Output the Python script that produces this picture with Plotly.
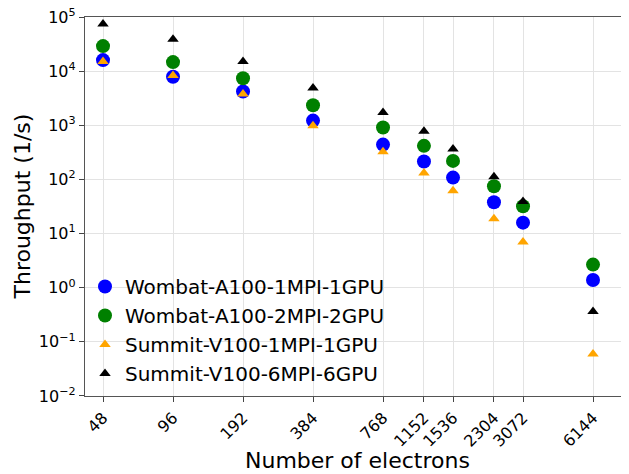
import plotly.graph_objects as go

electrons = [48, 96, 192, 384, 768, 1152, 1536, 2304, 3072, 6144]
tick_labels = [str(e) for e in electrons]

wombat_1gpu = [16000, 7900, 4200, 1220, 440, 214, 108, 38, 15.9, 1.39]
wombat_2gpu = [29000, 14700, 7400, 2350, 910, 417, 220, 75, 32, 2.67]
summit_1gpu = [15000, 8300, 3800, 980, 325, 132, 62, 18.8, 7.0, 0.0596]
summit_6gpu = [74000, 39000, 15000, 4900, 1730, 772, 364, 112, 39, 0.365]

y_tickvals = [1e-2, 1e-1, 1, 10, 100, 1e3, 1e4, 1e5]
y_ticktext = ["10<sup>−2</sup>", "10<sup>−1</sup>", "10<sup>0</sup>", "10<sup>1</sup>",
              "10<sup>2</sup>", "10<sup>3</sup>", "10<sup>4</sup>", "10<sup>5</sup>"]

series = [
    ("Wombat-A100-1MPI-1GPU", wombat_1gpu, "blue", "circle", 14),
    ("Wombat-A100-2MPI-2GPU", wombat_2gpu, "green", "circle", 14),
    ("Summit-V100-1MPI-1GPU", summit_1gpu, "orange", "triangle-up", 10),
    ("Summit-V100-6MPI-6GPU", summit_6gpu, "black", "triangle-up", 10),
]

fig = go.Figure()
for name, vals, color, sym, size in series:
    fig.add_trace(go.Scatter(
        x=electrons, y=vals, mode="markers", name=name,
        marker=dict(color=color, symbol=sym, size=size, line=dict(width=0)),
    ))

font = "DejaVu Sans"
# page body has an 8px margin, so the figure is sized to fill the rest of the window
fig.update_layout(
    width=621, height=466,
    margin=dict(l=77, r=0, t=9, b=78),
    paper_bgcolor="white", plot_bgcolor="white",
    font=dict(family=font, color="black", size=16),
    showlegend=True,
    legend=dict(x=0.0, y=0.008, xanchor="left", yanchor="bottom",
                bgcolor="rgba(255,255,255,0)", font=dict(size=20, family=font),
                itemwidth=30, tracegroupgap=0),
    annotations=[
        dict(text="Number of electrons", xref="paper", yref="paper",
             x=0.5, y=-0.171, xanchor="center", yanchor="middle",
             showarrow=False, font=dict(size=22, family=font, color="black")),
        dict(text="Throughput (1/s)", xref="paper", yref="paper",
             x=-0.114, y=0.5, xanchor="center", yanchor="middle", textangle=-90,
             showarrow=False, font=dict(size=22, family=font, color="black")),
    ],
)
fig.update_xaxes(
    type="log", range=[1.6038, 3.9432], automargin=False,
    tickmode="array", tickvals=electrons, ticktext=tick_labels, tickangle=-45,
    tickfont=dict(size=16), ticks="outside", ticklen=5, tickcolor="#444",
    ticklabeloverflow="allow",
    showgrid=True, gridcolor="#e3e3e3", gridwidth=1,
    showline=True, linecolor="#555", linewidth=1.3, mirror=True,
    zeroline=False,
)
fig.update_yaxes(
    type="log", range=[-2.0002, 5.0002], automargin=False,
    tickmode="array", tickvals=y_tickvals, ticktext=y_ticktext,
    tickfont=dict(size=16), ticks="outside", ticklen=5, tickcolor="#444",
    ticklabeloverflow="allow",
    showgrid=True, gridcolor="#e3e3e3", gridwidth=1,
    showline=True, linecolor="#555", linewidth=1.3, mirror=False,
    zeroline=False,
)
fig.write_html("out.html")
